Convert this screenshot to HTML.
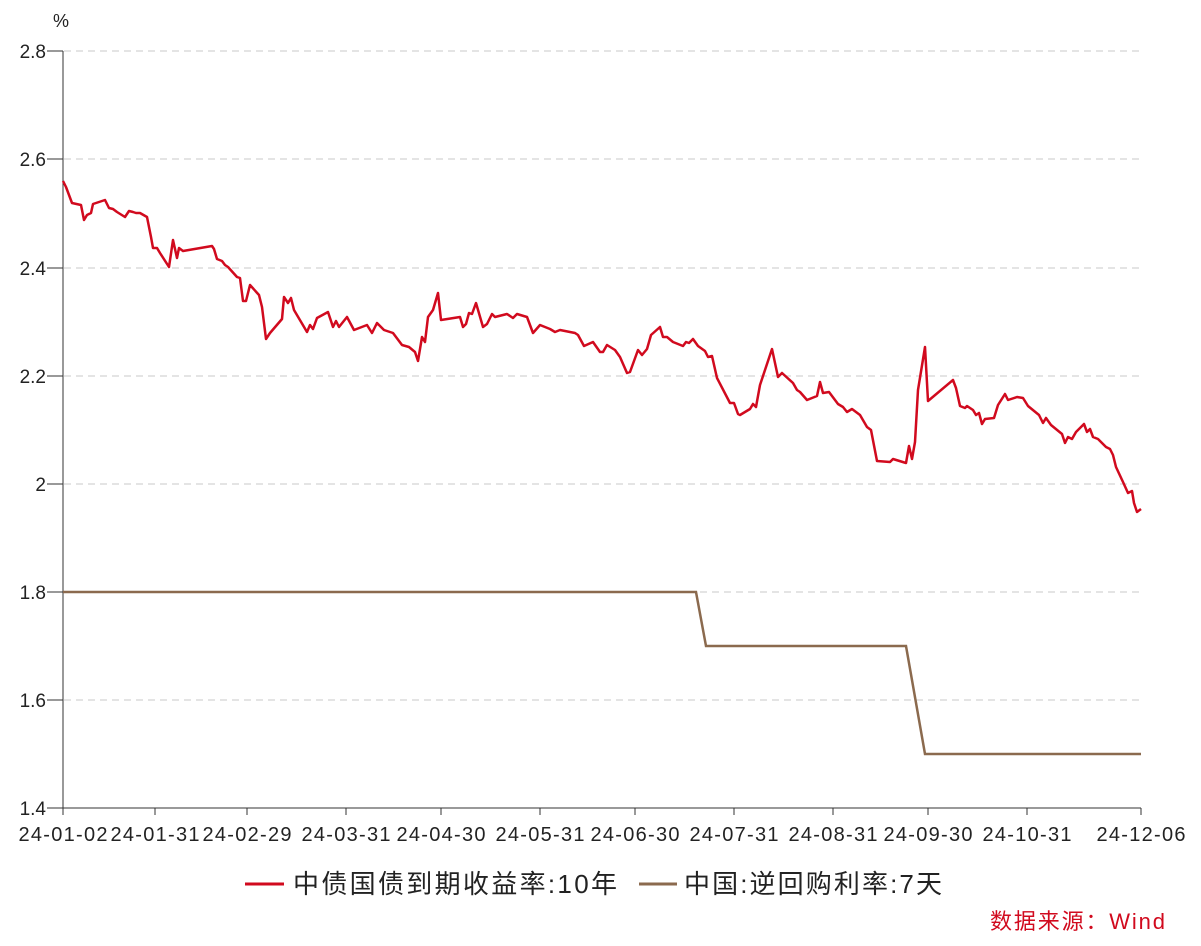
<!DOCTYPE html>
<html><head><meta charset="utf-8"><style>
body{margin:0;background:#fff;}
svg{display:block;font-family:"Liberation Sans","Noto Sans CJK SC",sans-serif;}
</style></head><body>
<svg width="1201" height="946" viewBox="0 0 1201 946">
<g stroke="#dcdcdc" stroke-width="1.5" stroke-dasharray="7,5">
<line x1="64" y1="51" x2="1141" y2="51"/><line x1="64" y1="159" x2="1141" y2="159"/>
<line x1="64" y1="268" x2="1141" y2="268"/><line x1="64" y1="376" x2="1141" y2="376"/>
<line x1="64" y1="484" x2="1141" y2="484"/><line x1="64" y1="592" x2="1141" y2="592"/>
<line x1="64" y1="700" x2="1141" y2="700"/>
</g>
<g stroke="#333" stroke-width="1">
<line x1="63" y1="51" x2="63" y2="808"/><line x1="63" y1="808" x2="1141" y2="808"/>
<line x1="47" y1="51" x2="63" y2="51"/><line x1="47" y1="159" x2="63" y2="159"/><line x1="47" y1="268" x2="63" y2="268"/><line x1="47" y1="376" x2="63" y2="376"/><line x1="47" y1="484" x2="63" y2="484"/><line x1="47" y1="592" x2="63" y2="592"/><line x1="47" y1="700" x2="63" y2="700"/><line x1="47" y1="808" x2="63" y2="808"/>
<line x1="63" y1="808" x2="63" y2="815"/><line x1="155" y1="808" x2="155" y2="815"/><line x1="247" y1="808" x2="247" y2="815"/><line x1="346" y1="808" x2="346" y2="815"/><line x1="441" y1="808" x2="441" y2="815"/><line x1="540" y1="808" x2="540" y2="815"/><line x1="635" y1="808" x2="635" y2="815"/><line x1="734" y1="808" x2="734" y2="815"/><line x1="833" y1="808" x2="833" y2="815"/><line x1="928" y1="808" x2="928" y2="815"/><line x1="1027" y1="808" x2="1027" y2="815"/><line x1="1141" y1="808" x2="1141" y2="815"/>
</g>
<g font-size="19" fill="#222" text-anchor="end">
<text x="46" y="58">2.8</text><text x="46" y="166">2.6</text><text x="46" y="275">2.4</text><text x="46" y="383">2.2</text><text x="46" y="491">2</text><text x="46" y="599">1.8</text><text x="46" y="707">1.6</text><text x="46" y="815">1.4</text>
</g>
<text x="53" y="27" font-size="18" fill="#222">%</text>
<g font-size="20" fill="#222" text-anchor="middle">
<text x="63" y="841" textLength="89">24-01-02</text><text x="155" y="841" textLength="89">24-01-31</text><text x="247" y="841" textLength="89">24-02-29</text><text x="346" y="841" textLength="89">24-03-31</text><text x="441" y="841" textLength="89">24-04-30</text><text x="540" y="841" textLength="89">24-05-31</text><text x="635" y="841" textLength="89">24-06-30</text><text x="734" y="841" textLength="89">24-07-31</text><text x="833" y="841" textLength="89">24-08-31</text><text x="928" y="841" textLength="89">24-09-30</text><text x="1027" y="841" textLength="89">24-10-31</text><text x="1141" y="841" textLength="89">24-12-06</text>
</g>
<polyline fill="none" stroke="#8b6a4e" stroke-width="2.5" points="63,592 696,592 706,646 906,646 925,754 1141,754"/>
<polyline fill="none" stroke="#d10a1e" stroke-width="2.5" stroke-linejoin="round" points="63,181 66,187 72,203 81,205 84,220 87,215 91,213 93,204 105,200 109,208 113,209 117,212 125,217 129,211 133,212 136,213 140,213 147,217 151,237 153,248 157,248 160,253 169,267 173,240 177,258 179,248 183,251 212,246 214,249 217,259 222,261 225,265 228,267 237,277 240,278 243,301 246,301 250,285 259,295 262,307 266,339 270,333 282,319 284,297 288,303 291,298 294,310 307,332 310,325 313,329 317,318 328,312 333,327 336,321 339,327 347,317 354,330 367,325 372,333 377,323 384,330 393,333 402,345 409,347 415,352 418,361 422,337 425,342 428,317 433,310 438,293 441,320 460,317 463,327 466,324 469,313 472,314 476,303 483,327 487,324 492,314 495,317 507,314 513,318 517,314 527,317 533,333 540,325 550,329 555,332 560,330 575,333 578,335 584,346 593,342 600,352 603,352 607,345 615,350 620,357 627,373 630,372 638,350 642,355 647,349 651,335 660,327 663,337 667,337 673,342 683,346 686,342 689,343 693,339 698,346 705,351 708,357 712,356 717,378 730,403 734,403 738,414 740,415 750,409 753,404 756,407 760,385 772,349 778,377 782,373 793,383 797,390 800,392 807,400 817,396 820,382 823,393 829,392 838,404 843,407 847,412 852,409 860,415 867,427 871,430 877,461 890,462 893,459 906,463 909,446 912,459 915,442 918,390 925,347 928,401 953,380 956,388 960,406 965,408 967,406 973,410 976,415 979,413 982,424 985,419 994,418 998,405 1005,394 1008,400 1017,397 1023,398 1028,406 1039,415 1043,423 1046,418 1051,425 1062,434 1065,443 1068,437 1072,439 1076,432 1084,424 1087,432 1090,429 1093,437 1098,439 1106,447 1110,449 1113,455 1116,467 1123,482 1128,493 1132,491 1134,503 1137,512 1141,509"/>
<line x1="245" y1="884" x2="284" y2="884" stroke="#d10a1e" stroke-width="3"/>
<text x="293" y="893" font-size="26" fill="#222" textLength="324">中债国债到期收益率:10年</text>
<line x1="639" y1="884" x2="677" y2="884" stroke="#8b6a4e" stroke-width="3"/>
<text x="684" y="893" font-size="26" fill="#222" textLength="258">中国:逆回购利率:7天</text>
<text x="990" y="929" font-size="22" fill="#d10a1e" textLength="175">数据来源：Wind</text>
</svg>
</body></html>
